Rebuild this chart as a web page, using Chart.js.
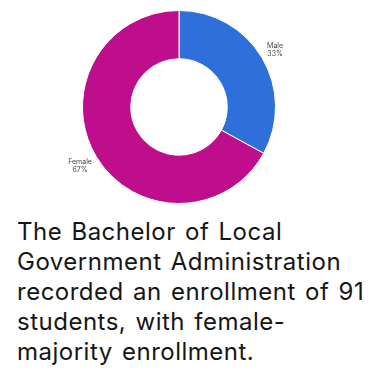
<!DOCTYPE html>
<html>
<head>
<meta charset="utf-8">
<script src="https://cdn.jsdelivr.net/npm/chart.js@4/dist/chart.umd.min.js"></script>
<style>
  html, body { margin: 0; padding: 0; background: #ffffff; }
  body { width: 376px; height: 373px; overflow: hidden; position: relative; }
  #wrap { position: absolute; left: 0; top: 0; width: 358px; height: 214px; }
  #caption {
    position: absolute; left: 17px; top: 217px; width: 360px;
    font-family: "Inter", "Noto Sans", sans-serif; font-size: 24px; line-height: 30px;
    letter-spacing: 0.5px; word-spacing: 2px;
    color: #161616; margin: 0; white-space: nowrap;
  }
</style>
</head>
<body>
<div id="wrap"><canvas id="c"></canvas></div>
<p id="caption">The Bachelor of Local<br>Government Administration<br>recorded an enrollment of 91<br>students, with female-<br>majority enrollment.</p>
<script>
const categories = ["Male", "Female"];
const counts = [30, 61];
const percentLabels = ["33%", "67%"];
const colors = ["#2E6FD9", "#BE0E8C"];

const outsideLabels = {
  id: "outsideLabels",
  afterDatasetsDraw(chart) {
    const ctx = chart.ctx;
    const meta = chart.getDatasetMeta(0);
    ctx.save();
    ctx.font = "7px 'Inter', 'Noto Sans', sans-serif";
    ctx.fillStyle = "#444444";
    ctx.textAlign = "center";
    ctx.textBaseline = "middle";
    const lh = 8.5;
    meta.data.forEach((arc, i) => {
      const p = arc.getProps(["x", "y", "startAngle", "endAngle", "outerRadius"], true);
      const mid = (p.startAngle + p.endAngle) / 2;
      const dx = Math.cos(mid), dy = Math.sin(mid);
      const lines = [categories[i], percentLabels[i]];
      const w = Math.max(...lines.map(t => ctx.measureText(t).width));
      const h = lh * lines.length;
      const R = p.outerRadius + 4;
      const ext = Math.abs(dx) * w / 2 + Math.abs(dy) * h / 2;
      const cx = p.x + dx * (R + ext);
      const cy = p.y + dy * (R + ext);
      lines.forEach((t, k) => {
        ctx.fillText(t, cx, cy - h / 2 + lh * (k + 0.5));
      });
    });
    ctx.restore();
  }
};

new Chart(document.getElementById("c"), {
  type: "doughnut",
  data: {
    labels: categories,
    datasets: [{
      data: counts,
      backgroundColor: colors,
      borderColor: "#ffffff",
      borderWidth: 1
    }]
  },
  options: {
    responsive: true,
    maintainAspectRatio: false,
    animation: false,
    cutout: "50%",
    layout: { padding: { top: 10, bottom: 10, left: 10, right: 10 } },
    plugins: {
      legend: { display: false },
      tooltip: { enabled: false }
    }
  },
  plugins: [outsideLabels]
});
</script>
</body>
</html>
